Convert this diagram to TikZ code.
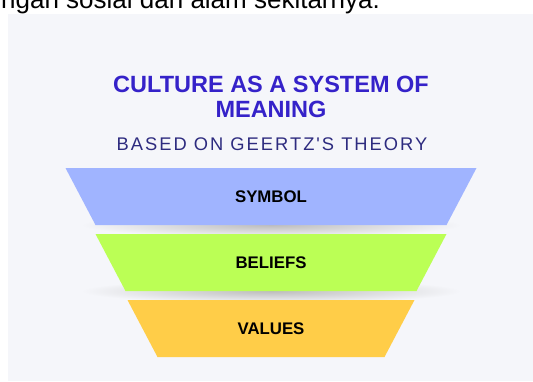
\documentclass[tikz,border=0pt]{standalone}
\usepackage{fontspec}
\setmainfont{Liberation Sans}
\newfontfamily\spacedfont[LetterSpace=11]{Liberation Sans}
\usetikzlibrary{shapes,arrows}

\definecolor{panelgray}{HTML}{F5F6FA}
\definecolor{titleblue}{HTML}{3522C9}
\definecolor{subnavy}{HTML}{2D2B7F}
\definecolor{symbolblue}{HTML}{A0B4FF}
\definecolor{beliefgreen}{HTML}{BBFF55}
\definecolor{valueyellow}{HTML}{FFCD48}

\tikzset{
  title line/.style={anchor=base, inner sep=0, text=titleblue,
    font=\fontsize{23.5}{25}\selectfont\bfseries},
  layer label/.style={inner sep=0, text=black,
    font=\fontsize{16.8}{18}\selectfont\bfseries},
}

\begin{document}
\begin{tikzpicture}[x=1pt,y=-1pt]
\clip (0,0) rectangle (533,381);
\fill[white] (0,0) rectangle (533,381);
% cut-off line of the text above
\node[anchor=base west, inner sep=0] (caption) at (1,8)
  {\fontsize{26}{30}\selectfont ngan sosial dan alam sekitarnya.};
\fill[panelgray] (8,13.5) rectangle (533,381);
% heading
\node[title line] (title) at (271,92) {CULTURE AS A SYSTEM OF};
\node[title line] (title meaning) at (271,117) {MEANING};
\node[anchor=base, inner sep=0, text=subnavy] (subtitle) at (272,150)
  {\spacedfont\fontsize{18.3}{20}\selectfont BASED ON GEERTZ'S THEORY};
% soft shadows under the upper layers
\foreach \ybot in {225,291} {
    \shade[inner color=black!26, outer color=panelgray] (271,\ybot) ellipse [x radius=190, y radius=12];
}
% the three layers of the funnel
\foreach \ytop/\half/\col/\name/\txt in {168/205.5/symbolblue/symbol/SYMBOL,
    234/175.5/beliefgreen/beliefs/BELIEFS, 300/143.5/valueyellow/values/VALUES} {
    \fill[\col] (271-\half,\ytop) -- (271+\half,\ytop) -- (271+\half-30,\ytop+57)
      -- (271-\half+30,\ytop+57) -- cycle;
    \node[layer label] (\name) at (271,\ytop+29) {\txt};
}
\end{tikzpicture}
\end{document}
